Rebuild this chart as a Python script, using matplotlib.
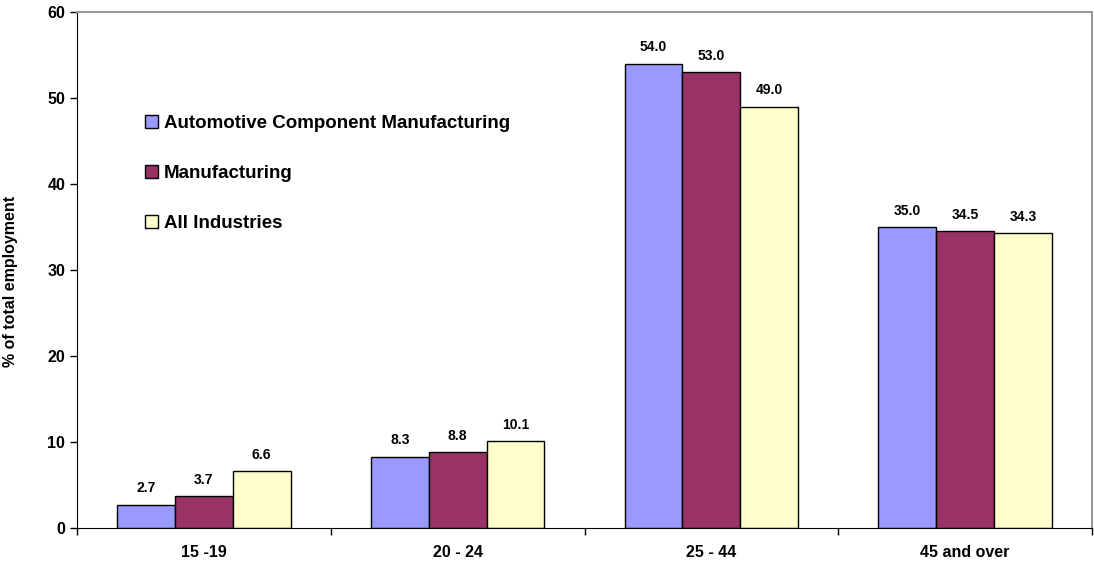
import matplotlib
matplotlib.use("Agg")
import matplotlib.pyplot as plt
import numpy as np

categories = ["15 -19", "20 - 24", "25 - 44", "45 and over"]
series_names = ["Automotive Component Manufacturing", "Manufacturing", "All Industries"]
auto_vals = [2.7, 8.3, 54.0, 35.0]
manuf_vals = [3.7, 8.8, 53.0, 34.5]
all_vals = [6.6, 10.1, 49.0, 34.3]
colors = ["#9999FF", "#993366", "#FFFFCC"]

plt.rcParams['font.family'] = ['Liberation Sans', 'DejaVu Sans']
plt.rcParams['font.weight'] = 'bold'

fig = plt.figure(figsize=(10.94, 5.68), dpi=100)
ax = fig.add_axes([77/1094, 1 - 528/568, (1092 - 77)/1094, (528 - 12)/568])

x = np.arange(len(categories))
w = 0.228
for i, (vals, name, c) in enumerate(zip([auto_vals, manuf_vals, all_vals], series_names, colors)):
    pos = x + (i - 1) * w
    ax.bar(pos, vals, width=w, color=c, edgecolor='black', linewidth=1.0, label=name, zorder=2)
    for p, v in zip(pos, vals):
        ax.text(p, v + 1.1, f"{v:.1f}", ha='center', va='bottom', fontsize=10, fontweight='bold')

ax.set_xlim(-0.5, len(categories) - 0.5)
ax.set_ylim(0, 60)
ax.set_yticks(range(0, 61, 10))
ax.set_xticks(x)
ax.set_xticklabels(categories, fontsize=11.5, fontweight='bold')
ax.set_xticks(np.arange(-0.5, len(categories), 1.0), minor=True)
ax.tick_params(axis='x', which='major', length=0, pad=12)
ax.tick_params(axis='x', which='minor', length=5, direction='out', width=1)
ax.tick_params(axis='y', labelsize=11.5, length=5, direction='out', width=1)
for lbl in ax.get_yticklabels():
    lbl.set_fontweight('bold')

ax.spines['left'].set_color('black')
ax.spines['bottom'].set_color('black')
ax.spines['top'].set_color('#999999')
ax.spines['right'].set_color('#999999')
ax.spines['top'].set_linewidth(1.5)
ax.spines['right'].set_linewidth(1.5)

ax.set_ylabel("% of total employment", fontsize=11.5, fontweight='bold')
ax.yaxis.set_label_coords(-0.058, 0.477)

leg = ax.legend(loc='upper left', bbox_to_anchor=(0.067, 0.80), frameon=False,
                borderaxespad=0, borderpad=0,
                fontsize=13.5, handlelength=0.7, handleheight=0.7, handletextpad=0.3,
                labelspacing=1.75)
for t in leg.get_texts():
    t.set_fontweight('bold')

fig.savefig("out.png", dpi=100)
